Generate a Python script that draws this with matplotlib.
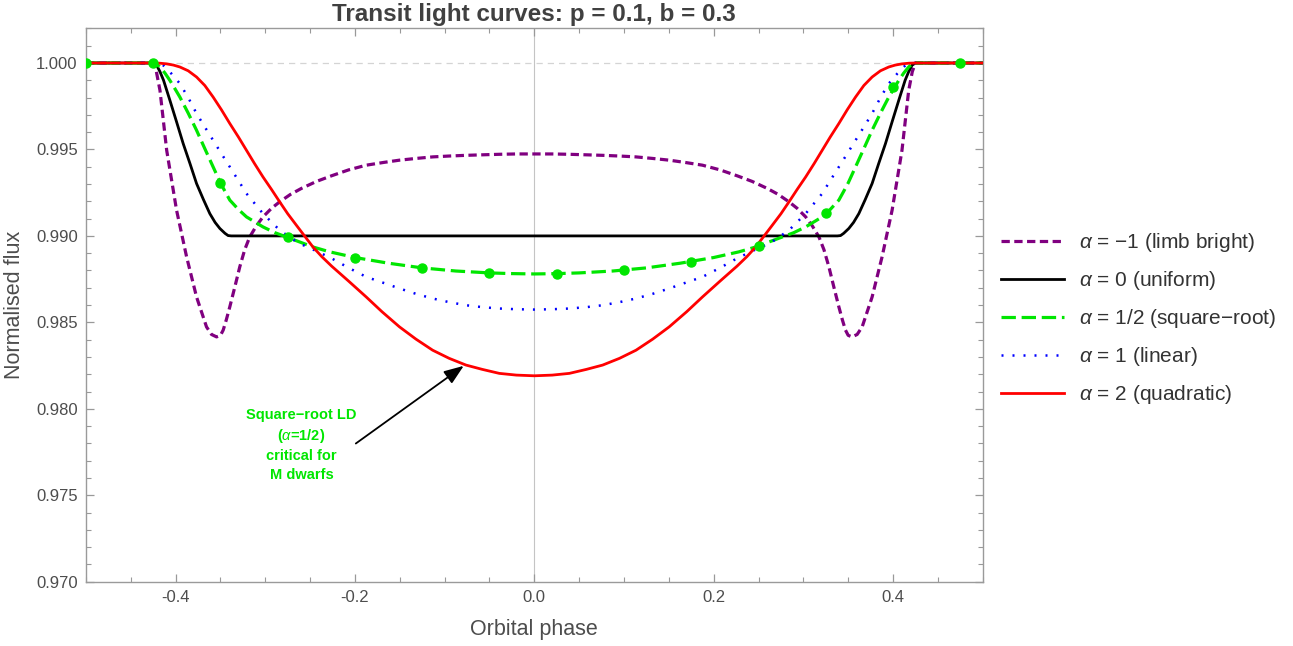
import matplotlib
matplotlib.use("Agg")
import matplotlib.pyplot as plt
from matplotlib.ticker import MultipleLocator, FormatStrFormatter

plt.rcParams['font.family'] = ['Liberation Sans', 'DejaVu Sans']
plt.rcParams['mathtext.fontset'] = 'custom'
plt.rcParams['mathtext.it'] = 'Liberation Sans:italic'
plt.rcParams['mathtext.rm'] = 'Liberation Sans'

# orbital phase vs normalised flux
uniform_phase = [-0.5, -0.425, -0.4212, -0.4175, -0.4135, -0.4064, -0.399, -0.3916, -0.384, -0.3767,
                 -0.369, -0.3619, -0.356, -0.3507, -0.345, -0.3415, -0.338,
                 0.338, 0.3415, 0.345, 0.3507, 0.356, 0.3619, 0.369, 0.3767, 0.384, 0.3916,
                 0.399, 0.4064, 0.4135, 0.4175, 0.4212, 0.425, 0.5]
uniform_flux = [1.0, 1.0, 0.99987, 0.9995, 0.999, 0.99784, 0.9966, 0.99534, 0.99418, 0.99303,
                0.9921, 0.99129, 0.99078, 0.99043, 0.99015, 0.99002, 0.99,
                0.99, 0.99002, 0.99015, 0.99043, 0.99078, 0.99129, 0.9921, 0.99303, 0.99418, 0.99534,
                0.9966, 0.99784, 0.999, 0.9995, 0.99987, 1.0, 1.0]

limb_phase = [-0.5, -0.425, -0.4215, -0.4175, -0.41, -0.399, -0.3878, -0.3767, -0.3656, -0.36,
              -0.3544, -0.35, -0.347, -0.3435, -0.3396, -0.334, -0.3285, -0.323, -0.3174, -0.31,
              -0.3026, -0.293, -0.284, -0.272, -0.26, -0.243, -0.226, -0.207, -0.1875, -0.168,
              -0.1505, -0.132, -0.1133, -0.095, -0.0762, -0.058, -0.0391, -0.02,
              0.0,
              0.02, 0.0391, 0.058, 0.0762, 0.095, 0.1133, 0.132, 0.1505,
              0.168, 0.1875, 0.207, 0.226, 0.243, 0.26, 0.272, 0.284, 0.293, 0.3026,
              0.31, 0.3174, 0.323, 0.3285, 0.334, 0.3396, 0.3435, 0.347, 0.35, 0.3544,
              0.36, 0.3656, 0.3767, 0.3878, 0.399, 0.41, 0.4175, 0.4215, 0.425, 0.5]
limb_flux = [1.0, 1.0, 0.9995, 0.99842, 0.99495, 0.99149, 0.98879, 0.98647, 0.98474, 0.9843,
             0.98416, 0.98425, 0.98455, 0.98515, 0.9859, 0.98705, 0.98821, 0.9892, 0.98994, 0.99058,
             0.9911, 0.9916, 0.99197, 0.9924, 0.99274, 0.99315, 0.99348, 0.99382, 0.99409, 0.99425,
             0.99438, 0.99448, 0.99457, 0.99462, 0.99466, 0.99469, 0.99472, 0.99474,
             0.99474,
             0.99474, 0.99472, 0.99469, 0.99466, 0.99462, 0.99457, 0.99448, 0.99438,
             0.99425, 0.99409, 0.99382, 0.99348, 0.99315, 0.99274, 0.9924, 0.99197, 0.9916, 0.9911,
             0.99058, 0.98994, 0.9892, 0.98821, 0.98705, 0.9859, 0.98515, 0.98455, 0.98425, 0.98416,
             0.9843, 0.98474, 0.98647, 0.98879, 0.99149, 0.99495, 0.99842, 0.9995, 1.0, 1.0]

sqrt_phase = [-0.5, -0.425, -0.4215, -0.4175, -0.412, -0.4065, -0.401, -0.3953, -0.386, -0.3767,
              -0.3675, -0.3582, -0.35, -0.3445, -0.3396, -0.33, -0.321, -0.3026, -0.289, -0.275,
              -0.2469, -0.2283, -0.2, -0.1625, -0.125, -0.0875, -0.05, -0.025,
              0.0,
              0.025, 0.05, 0.0875, 0.125, 0.1625, 0.2, 0.2283, 0.2469,
              0.275, 0.289, 0.3026, 0.321, 0.33, 0.3396, 0.3445, 0.35, 0.3582, 0.3675,
              0.3767, 0.386, 0.3953, 0.401, 0.4065, 0.412, 0.4175, 0.4215, 0.425, 0.5]
sqrt_flux = [1.0, 1.0, 0.99995, 0.99977, 0.99942, 0.999, 0.99853, 0.99803, 0.9971, 0.99611,
             0.99505, 0.99399, 0.99306, 0.99253, 0.99207, 0.99153, 0.9911, 0.99052, 0.99018, 0.98991,
             0.98936, 0.98908, 0.98875, 0.98842, 0.98815, 0.98797, 0.98786, 0.98782,
             0.9878,
             0.98782, 0.98786, 0.98797, 0.98815, 0.98842, 0.98875, 0.98908, 0.98936,
             0.98991, 0.99018, 0.99052, 0.9911, 0.99153, 0.99207, 0.99253, 0.99306, 0.99399, 0.99505,
             0.99611, 0.9971, 0.99803, 0.99853, 0.999, 0.99942, 0.99977, 0.99995, 1.0, 1.0]
sqrt_mark_phase = [-0.5, -0.425, -0.35, -0.275, -0.2, -0.125, -0.05, 0.025, 0.1, 0.175, 0.25, 0.325, 0.4, 0.475]
sqrt_mark_flux = [1.0, 1.0, 0.99306, 0.98991, 0.98875, 0.98815, 0.98786, 0.98781, 0.98802, 0.98848,
                  0.9894, 0.99131, 0.9986, 1.0]

linear_phase = [-0.5, -0.425, -0.4195, -0.4139, -0.405, -0.3953, -0.386, -0.3767, -0.3675, -0.3582,
                -0.349, -0.3396, -0.33, -0.321, -0.3026, -0.284, -0.2635, -0.245, -0.226, -0.207,
                -0.1875, -0.168, -0.1504, -0.132, -0.1134, -0.095, -0.0762, -0.058, -0.0391, -0.02,
                0.0,
                0.02, 0.0391, 0.058, 0.0762, 0.095, 0.1134, 0.132, 0.1504, 0.168, 0.1875,
                0.207, 0.226, 0.245, 0.2635, 0.284, 0.3026, 0.321, 0.33, 0.3396, 0.349,
                0.3582, 0.3675, 0.3767, 0.386, 0.3953, 0.405, 0.4139, 0.4195, 0.425, 0.5]
linear_flux = [1.0, 1.0, 0.99997, 0.99987, 0.9994, 0.99881, 0.998, 0.99708, 0.9963, 0.99553,
               0.99476, 0.99399, 0.9932, 0.99245, 0.99129, 0.99033, 0.9896, 0.98917, 0.9887, 0.98815,
               0.98763, 0.98728, 0.98696, 0.98665, 0.98638, 0.98617, 0.98599, 0.98588, 0.9858, 0.98576,
               0.98574,
               0.98576, 0.9858, 0.98588, 0.98599, 0.98617, 0.98638, 0.98665, 0.98696, 0.98728, 0.98763,
               0.98815, 0.9887, 0.98917, 0.9896, 0.99033, 0.99129, 0.99245, 0.9932, 0.99399, 0.99476,
               0.99553, 0.9963, 0.99708, 0.998, 0.99881, 0.9994, 0.99987, 0.99997, 1.0, 1.0]

quad_phase = [-0.5, -0.425, -0.418, -0.41, -0.4025, -0.3953, -0.386, -0.3767, -0.3675, -0.3582,
              -0.349, -0.3396, -0.33, -0.321, -0.312, -0.3026, -0.293, -0.284, -0.275, -0.2654,
              -0.256, -0.2469, -0.237, -0.226, -0.207, -0.1875, -0.17, -0.1504, -0.132, -0.1134,
              -0.095, -0.0762, -0.058, -0.0391, -0.02,
              0.0,
              0.02, 0.0391, 0.058, 0.0762, 0.095,
              0.1134, 0.132, 0.1504, 0.17, 0.1875, 0.207, 0.226, 0.237, 0.2469, 0.256,
              0.2654, 0.275, 0.284, 0.293, 0.3026, 0.312, 0.321, 0.33, 0.3396, 0.349,
              0.3582, 0.3675, 0.3767, 0.386, 0.3953, 0.4025, 0.41, 0.418, 0.425, 0.5]
quad_flux = [1.0, 1.0, 0.99999, 0.99995, 0.99988, 0.99977, 0.99955, 0.99919, 0.9987, 0.99803,
             0.9973, 0.9965, 0.99572, 0.99495, 0.99418, 0.99341, 0.99268, 0.99197, 0.99128, 0.99062,
             0.98998, 0.98936, 0.9888, 0.98825, 0.98738, 0.98647, 0.98562, 0.98474, 0.98403, 0.98339,
             0.98292, 0.98253, 0.98228, 0.98205, 0.98195,
             0.98191,
             0.98195, 0.98205, 0.98228, 0.98253, 0.98292,
             0.98339, 0.98403, 0.98474, 0.98562, 0.98647, 0.98738, 0.98825, 0.9888, 0.98936, 0.98998,
             0.99062, 0.99128, 0.99197, 0.99268, 0.99341, 0.99418, 0.99495, 0.99572, 0.9965, 0.9973,
             0.99803, 0.9987, 0.99919, 0.99955, 0.99977, 0.99988, 0.99995, 0.99999, 1.0, 1.0]

green = '#00e600'
grey_text = '#4d4d4d'

fig = plt.figure(figsize=(12.93, 6.46), dpi=100)
ax = fig.add_axes([0.0665, 0.0995, 0.6935, 0.8565])

ax.axhline(1.0, color='#d4d4d4', linewidth=0.9, linestyle=(0, (5, 4)), zorder=1)
ax.axvline(0.0, color='#c4c4c4', linewidth=0.8, zorder=1)

ax.plot(limb_phase, limb_flux, color='#800080', linewidth=2.3, linestyle=(0, (2.6, 1.4)),
        label=r'$\alpha$ = −1 (limb bright)', zorder=3)
ax.plot(uniform_phase, uniform_flux, color='black', linewidth=2.0,
        label=r'$\alpha$ = 0 (uniform)', zorder=3)
ax.plot(sqrt_phase, sqrt_flux, color=green, linewidth=2.3, linestyle=(0, (4.5, 1.8)),
        label=r'$\alpha$ = 1/2 (square−root)', zorder=3)
ax.plot(linear_phase, linear_flux, color='#0000ff', linewidth=1.8, linestyle=(0, (0.8, 3.6)),
        label=r'$\alpha$ = 1 (linear)', zorder=3)
ax.plot(quad_phase, quad_flux, color='#ff0000', linewidth=2.0,
        label=r'$\alpha$ = 2 (quadratic)', zorder=3)
ax.plot(sqrt_mark_phase, sqrt_mark_flux, 'o', color=green, markersize=6.5, linestyle='none', zorder=4)

ax.annotate('', xy=(-0.0762, 0.98258), xytext=(-0.2016, 0.9779),
            arrowprops=dict(arrowstyle='-|>,head_length=1.2,head_width=0.45', color='black', lw=1.3))
ax.text(-0.2597, 0.97793, 'Square−root LD\n' + r'($\alpha$=1/2)' + '\ncritical for\nM dwarfs',
        color=green, fontsize=10.5, fontweight='bold', ha='center', va='center', linespacing=1.4)

ax.set_xlim(-0.5, 0.5)
ax.set_ylim(0.970, 1.002)
ax.xaxis.set_major_locator(MultipleLocator(0.2))
ax.xaxis.set_minor_locator(MultipleLocator(0.05))
ax.yaxis.set_major_locator(MultipleLocator(0.005))
ax.yaxis.set_minor_locator(MultipleLocator(0.001))
ax.yaxis.set_major_formatter(FormatStrFormatter('%.3f'))
ax.xaxis.set_major_formatter(FormatStrFormatter('%.1f'))
ax.tick_params(which='both', direction='in', top=True, right=True, color='#999999', labelcolor=grey_text,
               labelsize=12)
ax.tick_params(which='major', length=6, width=0.9, pad=6)
ax.tick_params(which='minor', length=3.5, width=0.8)
for s in ax.spines.values():
    s.set_color('#9a9a9a')
    s.set_linewidth(1.0)

ax.set_xlabel('Orbital phase', fontsize=15.5, color=grey_text, labelpad=10)
ax.set_ylabel('Normalised flux', fontsize=15.5, color=grey_text, labelpad=8)
ax.set_title('Transit light curves: p = 0.1, b = 0.3', fontsize=17.5, fontweight='bold', color='#404040', pad=5)

ax.legend(loc='center left', bbox_to_anchor=(1.0, 0.475), frameon=False, fontsize=15,
          handlelength=3.0, handletextpad=0.7, labelspacing=0.72, labelcolor='#333333')

fig.savefig('out.png', dpi=100)
